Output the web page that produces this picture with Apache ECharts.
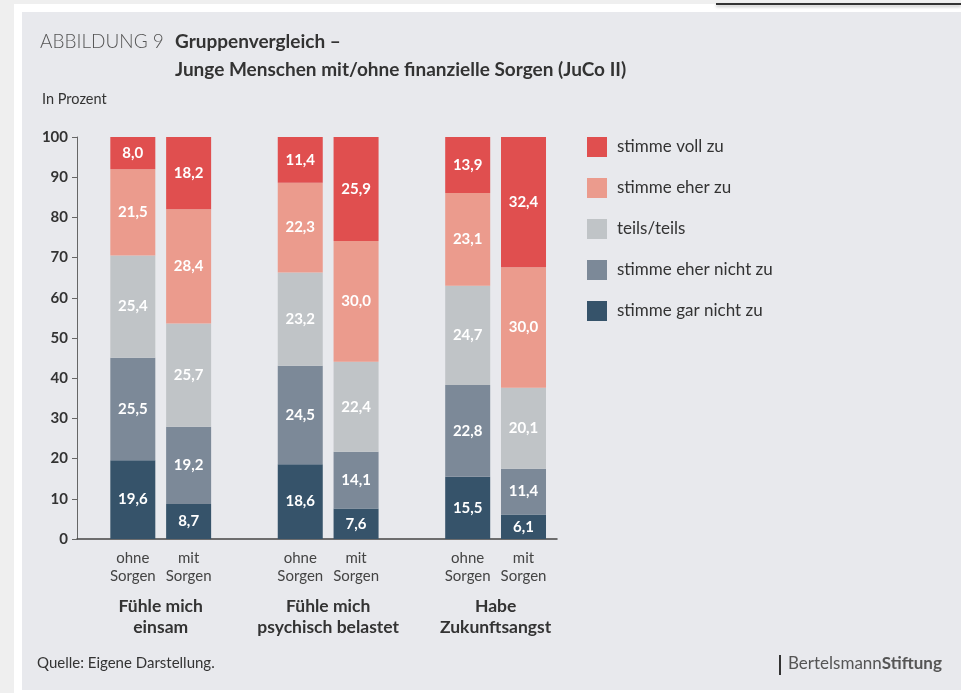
<!DOCTYPE html>
<html>
<head>
<meta charset="utf-8">
<script src="https://cdn.jsdelivr.net/npm/echarts@6/dist/echarts.min.js"></script>
<style>
  html, body { margin: 0; padding: 0; background: #efefef; }
  #frame { position: absolute; left: 14px; top: 4px; width: 947px; height: 689px; background: #fff; }
  #panel { position: absolute; left: 22px; top: 12px; width: 939px; height: 678px; background: #e8e9ed; }
  #topline { position: absolute; left: 716px; top: 3px; width: 245px; height: 2px; background: #333; box-shadow: 0 2px 3px rgba(0,0,0,0.25); }
  #main { position: absolute; left: 0; top: 0; width: 961px; height: 693px; }
</style>
</head>
<body>
<div id="frame"></div>
<div id="panel"></div>
<div id="topline"></div>
<div id="main"></div>
<script>
// bar positions on the x value axis (gaps between the groups)
var barPos = [1, 2, 4, 5, 7, 8]
var barNames = ['ohne\nSorgen', 'mit\nSorgen', 'ohne\nSorgen', 'mit\nSorgen', 'ohne\nSorgen', 'mit\nSorgen']
var groupPos = [1.5, 4.5, 7.5]
var groupNames = ['Fühle mich\neinsam', 'Fühle mich\npsychisch belastet', 'Habe\nZukunftsangst']
var yTicks = [0, 10, 20, 30, 40, 50, 60, 70, 80, 90, 100]

// values per bar, bottom to top
var garNicht = [19.6, 8.7, 18.6, 7.6, 15.5, 6.1]
var eherNicht = [25.5, 19.2, 24.5, 14.1, 22.8, 11.4]
var teils = [25.4, 25.7, 23.2, 22.4, 24.7, 20.1]
var eherZu = [21.5, 28.4, 22.3, 30.0, 23.1, 30.0]
var vollZu = [8.0, 18.2, 11.4, 25.9, 13.9, 32.4]

var seriesDefs = [
    { name: 'stimme gar nicht zu', data: garNicht, color: '#36536a' },
    { name: 'stimme eher nicht zu', data: eherNicht, color: '#7c8998' },
    { name: 'teils/teils', data: teils, color: '#c0c4c7' },
    { name: 'stimme eher zu', data: eherZu, color: '#eb9b8d' },
    { name: 'stimme voll zu', data: vollZu, color: '#e04f4f' }
]

var font = 'Lato, "Noto Sans", sans-serif'

var myChart = echarts.init(document.getElementById('main'))

// value first, position second, so the stack is on the value
var series = seriesDefs.map(function (s) {
    return {
        name: s.name,
        type: 'bar',
        stack: 'all',
        barWidth: 45,
        encode: { x: 1, y: 0 },
        itemStyle: { color: s.color },
        label: {
            show: true,
            position: 'inside',
            color: '#fff',
            fontFamily: font,
            fontWeight: 'bold',
            fontSize: 15,
            formatter: function (p) { return p.value[0].toFixed(1).replace('.', ',') }
        },
        data: s.data.map(function (v, i) { return [v, barPos[i]] })
    }
})

var option = {
    textStyle: { fontFamily: font },
    title: [
        { text: 'ABBILDUNG 9', left: 40, top: 32, padding: 0, textStyle: { fontFamily: font, fontWeight: 300, fontSize: 19, color: '#555' } },
        { text: 'Gruppenvergleich –\nJunge Menschen mit/ohne finanzielle Sorgen (JuCo II)', left: 175, top: 28, padding: 0,
          textStyle: { fontFamily: font, fontWeight: 'bold', fontSize: 19, lineHeight: 28, color: '#333' } },
        { text: 'In Prozent', left: 42, top: 92, padding: 0, textStyle: { fontFamily: font, fontWeight: 'normal', fontSize: 14.5, color: '#333' } },
        { text: 'Quelle: Eigene Darstellung.', left: 37, top: 656, padding: 0, textStyle: { fontFamily: font, fontWeight: 'normal', fontSize: 15, color: '#333' } },
        { text: '{a|Bertelsmann}{b|Stiftung}', left: 788, top: 655, padding: 0,
          textStyle: { rich: {
              a: { fontFamily: font, fontSize: 17, fontWeight: 'normal', color: '#555' },
              b: { fontFamily: font, fontSize: 17, fontWeight: 'bold', color: '#555' }
          } } }
    ],
    graphic: [
        { type: 'rect', left: 779, top: 655, shape: { width: 2, height: 20 }, style: { fill: '#333' } }
    ],
    legend: {
        orient: 'vertical',
        left: 587,
        top: 137,
        padding: 0,
        itemWidth: 20,
        itemHeight: 20,
        itemGap: 21,
        icon: 'rect',
        data: ['stimme voll zu', 'stimme eher zu', 'teils/teils', 'stimme eher nicht zu', 'stimme gar nicht zu'],
        textStyle: { fontFamily: font, fontSize: 17, color: '#333', padding: [0, 0, 0, 5] }
    },
    grid: { left: 77, right: 404, top: 137, bottom: 154 },
    xAxis: [{
        type: 'value',
        min: 0,
        max: 8.6,
        splitLine: { show: false },
        axisLine: { show: true, lineStyle: { color: '#444', width: 1.5 } },
        axisTick: { show: false },
        axisLabel: {
            customValues: barPos,
            margin: 10,
            color: '#444',
            fontSize: 15,
            lineHeight: 18,
            fontFamily: font,
            formatter: function (v) { return barNames[barPos.indexOf(v)] }
        }
    }, {
        type: 'value',
        position: 'bottom',
        min: 0,
        max: 8.6,
        splitLine: { show: false },
        axisLine: { show: false },
        axisTick: { show: false },
        axisLabel: {
            customValues: groupPos,
            margin: 57,
            color: '#333',
            fontSize: 17.5,
            fontWeight: 'bold',
            lineHeight: 21,
            fontFamily: font,
            formatter: function (v) { return groupNames[groupPos.indexOf(v)] }
        }
    }],
    yAxis: {
        type: 'value',
        min: 0,
        max: 100,
        interval: 10,
        splitLine: { show: false },
        axisLine: { show: true, lineStyle: { color: '#666' } },
        axisTick: { show: true, length: 5, lineStyle: { color: '#666' } },
        axisLabel: { margin: 9, color: '#333', fontSize: 15, fontWeight: 'bold', fontFamily: font,
            formatter: function (v) { return yTicks.indexOf(v) >= 0 ? String(v) : '' } }
    },
    series: series
}

myChart.setOption(option)
</script>
</body>
</html>
